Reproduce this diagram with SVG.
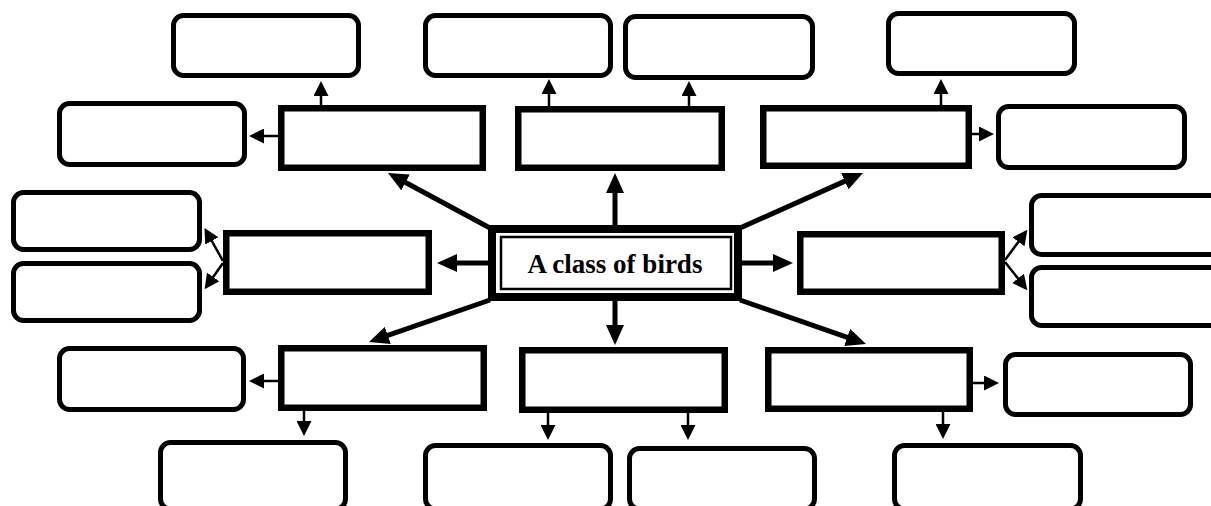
<svg xmlns="http://www.w3.org/2000/svg" width="1211" height="506" viewBox="0 0 1211 506">
  <style>
    .box { fill: #fff; stroke: #000; stroke-width: 6.5; }
    .leaf { fill: #fff; stroke: #000; stroke-width: 5; }
    .thick { stroke: #000; stroke-width: 5; fill: none; marker-end: url(#headL); }
    .thin { stroke: #000; stroke-width: 2.5; fill: none; marker-end: url(#headS); }
    .title { font-family: "Liberation Serif", "Times New Roman", serif; font-weight: bold; font-size: 27px; fill: #000; }
  </style>
  <defs>
    <marker id="headL" viewBox="0 0 20 18" refX="10" refY="9" markerWidth="20" markerHeight="18" markerUnits="userSpaceOnUse" orient="auto">
      <path d="M0,0 L20,9 L0,18 z" fill="#000"/>
    </marker>
    <marker id="headS" viewBox="0 0 15 15" refX="8" refY="7.5" markerWidth="15" markerHeight="15" markerUnits="userSpaceOnUse" orient="auto">
      <path d="M0,0 L15,7.5 L0,15 z" fill="#000"/>
    </marker>
  </defs>
  <rect width="1211" height="506" fill="#fff"/>

  <!-- connectors -->
  <g id="connectors">
    <!-- from the central box -->
    <line class="thick" x1="615" y1="226" x2="615" y2="183"/>
    <line class="thick" x1="490" y1="228" x2="396.8" y2="177.7"/>
    <line class="thick" x1="740" y1="228" x2="853.9" y2="177.1"/>
    <line class="thick" x1="489" y1="263" x2="447" y2="263"/>
    <line class="thick" x1="741" y1="263" x2="783" y2="263"/>
    <line class="thick" x1="615" y1="300" x2="615" y2="335"/>
    <line class="thick" x1="490" y1="300" x2="378.4" y2="338.7"/>
    <line class="thick" x1="740" y1="300" x2="856.6" y2="340.7"/>
    <!-- from the category boxes -->
    <line class="thin" x1="321" y1="106" x2="321" y2="88"/>
    <line class="thin" x1="279" y1="136" x2="256" y2="136"/>
    <line class="thin" x1="549" y1="107" x2="549" y2="86"/>
    <line class="thin" x1="689" y1="107" x2="689" y2="88"/>
    <line class="thin" x1="941" y1="106" x2="941" y2="86"/>
    <line class="thin" x1="971" y1="134" x2="987" y2="134"/>
    <line class="thin" x1="223" y1="261" x2="207.9" y2="234"/>
    <line class="thin" x1="223" y1="263" x2="208.6" y2="283.5"/>
    <line class="thin" x1="1005" y1="260" x2="1023.2" y2="235.4"/>
    <line class="thin" x1="1005" y1="262" x2="1023" y2="284.7"/>
    <line class="thin" x1="279" y1="381" x2="256" y2="381"/>
    <line class="thin" x1="304" y1="410" x2="304" y2="429"/>
    <line class="thin" x1="548" y1="412" x2="548" y2="433"/>
    <line class="thin" x1="688" y1="412" x2="688" y2="433"/>
    <line class="thin" x1="943" y1="411" x2="943" y2="432"/>
    <line class="thin" x1="972" y1="383" x2="992" y2="383"/>
  </g>

  <!-- central node -->
  <g id="center">
    <rect x="492" y="229" width="246" height="68" fill="#fff" stroke="#000" stroke-width="8"/>
    <rect x="501" y="237" width="230" height="52" fill="none" stroke="#000" stroke-width="2.5"/>
    <text class="title" x="615" y="273" text-anchor="middle">A class of birds</text>
  </g>

  <!-- category boxes -->
  <g id="cat-top-left"><rect class="box" x="281.25" y="108.25" width="201.5" height="59.5"/></g>
  <g id="cat-top-mid"><rect class="box" x="518.25" y="109.25" width="203.5" height="58.5"/></g>
  <g id="cat-top-right"><rect class="box" x="763.25" y="108.25" width="205.5" height="57.5"/></g>
  <g id="cat-left"><rect class="box" x="226.25" y="233.25" width="202.5" height="58.5"/></g>
  <g id="cat-right"><rect class="box" x="800.25" y="234.25" width="201.5" height="57.5"/></g>
  <g id="cat-bottom-left"><rect class="box" x="281.25" y="348.25" width="202.5" height="59.5"/></g>
  <g id="cat-bottom-mid"><rect class="box" x="522.25" y="350.25" width="202.5" height="59.5"/></g>
  <g id="cat-bottom-right"><rect class="box" x="768.25" y="350.25" width="201.5" height="58.5"/></g>

  <!-- detail boxes -->
  <g id="leaf-1"><rect class="leaf" x="173.5" y="15.5" width="185" height="60" rx="10"/></g>
  <g id="leaf-2"><rect class="leaf" x="425.5" y="15.5" width="185" height="60" rx="10"/></g>
  <g id="leaf-3"><rect class="leaf" x="625.5" y="16.5" width="187" height="61" rx="10"/></g>
  <g id="leaf-4"><rect class="leaf" x="888.5" y="13.5" width="186" height="60" rx="10"/></g>
  <g id="leaf-5"><rect class="leaf" x="59.5" y="103.5" width="185" height="61" rx="10"/></g>
  <g id="leaf-6"><rect class="leaf" x="998.5" y="106.5" width="186" height="61" rx="10"/></g>
  <g id="leaf-7"><rect class="leaf" x="13.5" y="192.5" width="186" height="57" rx="10"/></g>
  <g id="leaf-8"><rect class="leaf" x="13.5" y="263.5" width="186" height="57" rx="10"/></g>
  <g id="leaf-9"><rect class="leaf" x="1031.5" y="195.5" width="190" height="59" rx="10"/></g>
  <g id="leaf-10"><rect class="leaf" x="1031.5" y="267.5" width="190" height="58" rx="10"/></g>
  <g id="leaf-11"><rect class="leaf" x="59.5" y="348.5" width="184" height="61" rx="10"/></g>
  <g id="leaf-12"><rect class="leaf" x="1005.5" y="354.5" width="185" height="60" rx="10"/></g>
  <!-- bottom row runs off the lower edge -->
  <g id="leaf-13"><rect class="leaf" x="160.5" y="442.5" width="185" height="66.5" rx="10"/></g>
  <g id="leaf-14"><rect class="leaf" x="425.5" y="445.5" width="185" height="63.5" rx="10"/></g>
  <g id="leaf-15"><rect class="leaf" x="629.5" y="448.5" width="185" height="60.5" rx="10"/></g>
  <g id="leaf-16"><rect class="leaf" x="894.5" y="445.5" width="186" height="63.5" rx="10"/></g>
</svg>
